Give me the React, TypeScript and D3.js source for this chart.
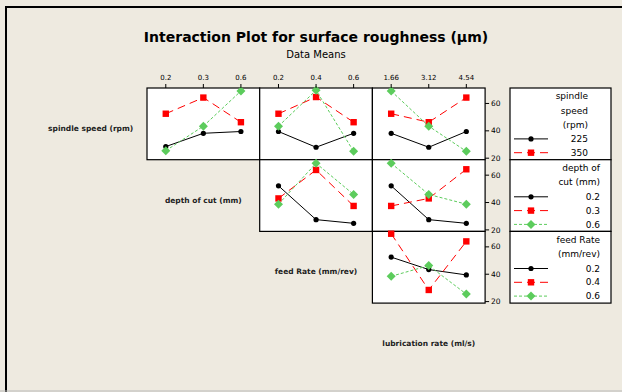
import * as d3 from "d3"

// factor names and level labels
const factors = ["spindle speed (rpm)", "depth of cut (mm)", "feed Rate (mm/rev)", "lubrication rate (ml/s)"]
const depthLevels = ["0.2", "0.3", "0.6"]
const feedLevels = ["0.2", "0.4", "0.6"]
const lubeLevels = ["1.66", "3.12", "4.54"]
const colLevels = [depthLevels, feedLevels, lubeLevels]

// means, one row per level of the row factor (black, red, green)
const speedByDepth = [
  [28.5, 38.2, 39.5],
  [52.5, 64.3, 46.3],
  [25.5, 43.4, 69.1],
]
const speedByFeed = [
  [39.5, 28.0, 38.2],
  [52.5, 64.7, 46.3],
  [43.4, 69.6, 25.0],
]
const speedByLube = [
  [38.2, 28.0, 39.5],
  [52.5, 46.3, 64.3],
  [69.1, 43.4, 25.0],
]
const depthByFeed = [
  [52.2, 27.5, 24.8],
  [43.0, 63.8, 37.5],
  [38.8, 68.7, 45.9],
]
const depthByLube = [
  [52.2, 27.5, 24.8],
  [37.5, 43.0, 64.3],
  [68.7, 45.9, 38.8],
]
const feedByLube = [
  [52.5, 43.4, 39.5],
  [69.6, 28.5, 64.0],
  [38.5, 46.3, 25.5],
]

const yTicks = [20, 40, 60]

const legendTitles = [["spindle", "speed", "(rpm)"], ["depth of", "cut (mm)"], ["feed Rate", "(mm/rev)"]]
const legendLevels = [["225", "350"], ["0.2", "0.3", "0.6"], ["0.2", "0.4", "0.6"]]

const panels = [
  { row: 0, col: 0, data: speedByDepth },
  { row: 0, col: 1, data: speedByFeed },
  { row: 0, col: 2, data: speedByLube },
  { row: 1, col: 1, data: depthByFeed },
  { row: 1, col: 2, data: depthByLube },
  { row: 2, col: 2, data: feedByLube },
]

const styles = [
  { color: "#000000", dash: "none", marker: "circle" },
  { color: "#ff0000", dash: "8,5", marker: "square" },
  { color: "#5ccc5c", dash: "3,2", marker: "diamond" },
]

const font = "DejaVu Sans, Verdana, sans-serif"
const x0 = 147
const cw = 112.7
const y0 = 88
const rh = 71.7

function Marker({ kind, x, y, color }: { kind: string; x: number; y: number; color: string }) {
  if (kind === "circle") return <circle cx={x} cy={y} r={2.6} fill={color} />
  if (kind === "square") return <rect x={x - 3.2} y={y - 3.2} width={6.4} height={6.4} fill={color} />
  return <path d={`M${x},${y - 4.5}L${x + 4.5},${y}L${x},${y + 4.5}L${x - 4.5},${y}Z`} fill={color} />
}

export default function App() {
  const y = d3.scaleLinear().domain([18.9, 71.3]).range([rh, 0])

  return (
    <svg
      width={622}
      height={392}
      style={{ position: "fixed", left: 0, top: 0, background: "#eeeae0" }}
      fontFamily={font}
    >
      <rect x={6} y={7} width={700} height={500} fill="none" stroke="#000" strokeWidth={2} />
      <line x1={0} x2={622} y1={391} y2={391} stroke="#b8b8b8" />

      <text x={316} y={42} textAnchor="middle" fontSize={14} fontWeight="bold">
        Interaction Plot for surface roughness (µm)
      </text>
      <text x={316} y={58} textAnchor="middle" fontSize={10}>
        Data Means
      </text>

      {/* diagonal labels */}
      {factors.map((f, i) => (
        <text
          key={f}
          x={x0 + (i - 1) * cw + cw / 2}
          y={y0 + i * rh + rh / 2 + 7}
          textAnchor="middle"
          fontSize={7.5}
          fontWeight="bold"
          fill="#222"
        >
          {f}
        </text>
      ))}

      {panels.map((p) => {
        const x = d3.scalePoint<string>().domain(colLevels[p.col]).range([0, cw]).padding(0.5)
        const line = d3
          .line<number>()
          .x((_, i) => x(colLevels[p.col][i]) as number)
          .y((d) => y(d))
        return (
          <g key={`${p.row}-${p.col}`} transform={`translate(${x0 + p.col * cw},${y0 + p.row * rh})`}>
            <rect width={cw} height={rh} fill="#fff" stroke="#000" strokeWidth={1.2} />
            {p.data.map((s, si) => (
              <g key={si}>
                <path
                  d={line(s) || ""}
                  fill="none"
                  stroke={styles[si].color}
                  strokeWidth={1}
                  strokeDasharray={styles[si].dash}
                />
                {s.map((v, i) => (
                  <Marker
                    key={i}
                    kind={styles[si].marker}
                    x={x(colLevels[p.col][i]) as number}
                    y={y(v)}
                    color={styles[si].color}
                  />
                ))}
              </g>
            ))}
            {p.row === 0 &&
              colLevels[p.col].map((l) => (
                <g key={l} transform={`translate(${x(l)},0)`}>
                  <line y1={0} y2={-4} stroke="#000" />
                  <text y={-8} textAnchor="middle" fontSize={7}>
                    {l}
                  </text>
                </g>
              ))}
            {p.col === 2 &&
              yTicks.map((t) => (
                <g key={t} transform={`translate(${cw},${y(t)})`}>
                  <line x1={0} x2={4} stroke="#000" />
                  <text x={6} dy="0.35em" fontSize={7.5}>
                    {t}
                  </text>
                </g>
              ))}
          </g>
        )
      })}

      {/* legends */}
      {legendTitles.map((title, li) => {
        const top = y0 + li * rh
        const right = li === 0 ? 588 : 600
        const lineH = 14.5
        const levels = legendLevels[li]
        const firstLevel = top + rh - 7 - (levels.length - 1) * 13.8
        return (
          <g key={li}>
            <rect x={510} y={top} width={101} height={rh} fill="#fff" stroke="#000" strokeWidth={1.2} />
            {title.map((t, ti) => (
              <text key={ti} x={right} y={top + 8 + ti * lineH} dy="0.35em" textAnchor="end" fontSize={9}>
                {t}
              </text>
            ))}
            {levels.map((lv, i) => {
              const cy = firstLevel + i * 13.8
              return (
                <g key={lv}>
                  <line
                    x1={514}
                    x2={548}
                    y1={cy}
                    y2={cy}
                    stroke={styles[i].color}
                    strokeDasharray={styles[i].dash}
                  />
                  <Marker kind={styles[i].marker} x={531} y={cy} color={styles[i].color} />
                  <text x={right} y={cy} dy="0.35em" textAnchor="end" fontSize={9}>
                    {lv}
                  </text>
                </g>
              )
            })}
          </g>
        )
      })}
    </svg>
  )
}
